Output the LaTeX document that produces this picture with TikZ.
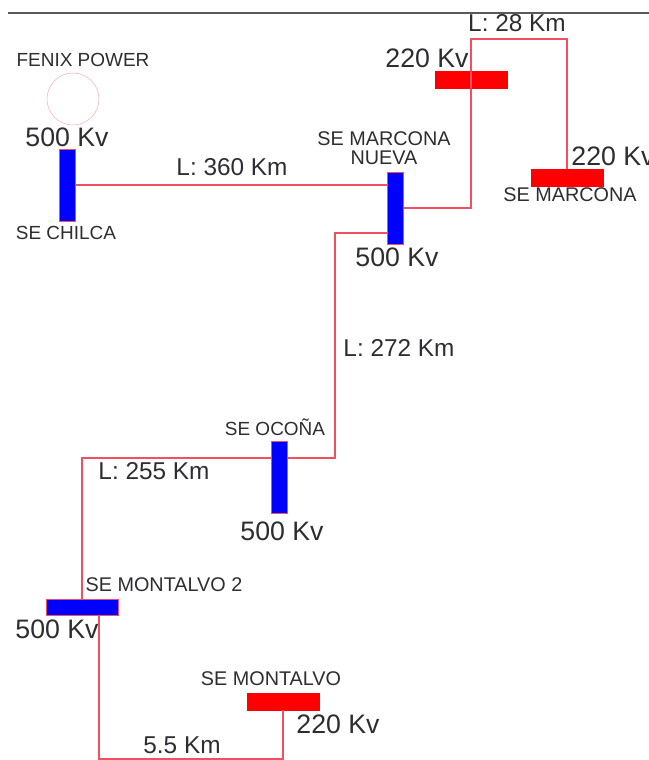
\documentclass[tikz,border=0pt]{standalone}
\usepackage{fontspec}
\setmainfont{Liberation Sans}
\usepackage{xcolor}
\usetikzlibrary{calc}
\definecolor{linered}{RGB}{240,80,95}
\definecolor{txtgray}{RGB}{45,45,50}

\begin{document}
\begin{tikzpicture}[
    x=0.03cm, y=-0.03cm,
    bar500v/.style={draw=linered, semithick, fill=blue, minimum width=0.48cm, minimum height=2.16cm, inner sep=0pt},
    bar500h/.style={draw=linered, semithick, fill=blue, minimum width=2.16cm, minimum height=0.5cm, inner sep=0pt},
    bar220/.style={draw=red, fill=red, minimum width=2.16cm, minimum height=0.5cm, inner sep=0pt},
    line/.style={draw=linered, line width=0.9pt},
    kv/.style={font=\fontsize{22.8}{24}\selectfont, text=txtgray, inner sep=0pt},
    len/.style={font=\fontsize{20.8}{22}\selectfont, text=txtgray, inner sep=0pt},
    se/.style={font=\fontsize{16.9}{16.2}\selectfont, text=txtgray, inner sep=0pt, align=center},
    sesmall/.style={font=\fontsize{16.2}{16.2}\selectfont, text=txtgray, inner sep=0pt},
  ]
    \useasboundingbox (0,0) rectangle (649,760);

    % Top rule
    \coordinate (ruleL) at (8,13);
    \coordinate (ruleR) at (649,13);
    \draw[gray!70!black, line width=1.4pt] (ruleL) -- (ruleR);

    % Generator + SE Chilca
    \node[sesmall] (fenix) at (83,60) {FENIX POWER};
    \node[draw=linered!50, circle, minimum size=1.56cm, inner sep=0pt] (gen) at (73,99) {};
    \node[kv] (kvChilca) at (67,137) {500 Kv};
    \node[bar500v] (chilca) at (67.5,185) {};
    \node[sesmall] (seChilca) at (66,232.5) {SE CHILCA};

    % SE Marcona Nueva
    \node[se] (seNueva) at (384,148) {SE MARCONA\\NUEVA};
    \node[bar500v] (nueva) at (395,208) {};
    \node[kv] (kvNueva) at (397,257) {500 Kv};

    % SE Marcona
    \node[kv] (kvTop) at (427,58) {220 Kv};
    \node[bar220] (top) at (471,80) {};
    \node[len] (lenTop) at (517,23) {L: 28 Km};
    \node[kv] (kvMarcona) at (613,156) {220 Kv};
    \node[bar220] (marcona) at (567,177.5) {};
    \node[se] (seMarcona) at (570,195) {SE MARCONA};

    % SE Ocona
    \node[sesmall] (seOcona) at (275,427.5) {SE OCOÑA};
    \node[bar500v] (ocona) at (279,477) {};
    \node[kv] (kvOcona) at (282,531) {500 Kv};

    % SE Montalvo 2
    \node[se] (seMont2) at (164,585) {SE MONTALVO 2};
    \node[bar500h] (mont2) at (82,607.5) {};
    \node[kv] (kvMont2) at (57,629) {500 Kv};

    % SE Montalvo
    \node[se] (seMont) at (271,679) {SE MONTALVO};
    \node[bar220] (mont) at (283,701.5) {};
    \node[kv] (kvMont) at (338,724) {220 Kv};

    % Corner points
    \coordinate (topC) at (471,39);
    \coordinate (nuevaS) at (387,233);
    \coordinate (bendS) at (335,233);
    \coordinate (oconaE) at (287,458);
    \coordinate (oconaW) at (271,458);
    \coordinate (mont2S) at (99,616);
    \coordinate (bottom) at (99,759);

    % Lines
    \draw[line] (chilca.east) -- (chilca.east -| nueva.west);
    \draw[line] (nueva.east) -| (topC) -| (marcona.north);
    \draw[line] (nuevaS) -- (bendS) -- (bendS |- oconaE) -- (oconaE);
    \draw[line] (oconaW) -| (mont2.north);
    \draw[line] (mont2S) -- (bottom) -| (mont.south);

    \node[len] (len360) at (232,167) {L: 360 Km};
    \node[len] (len272) at (399,348) {L: 272 Km};
    \node[len] (len255) at (154,471) {L: 255 Km};
    \node[len] (len55) at (182,745) {5.5 Km};
  \end{tikzpicture}
\end{document}
